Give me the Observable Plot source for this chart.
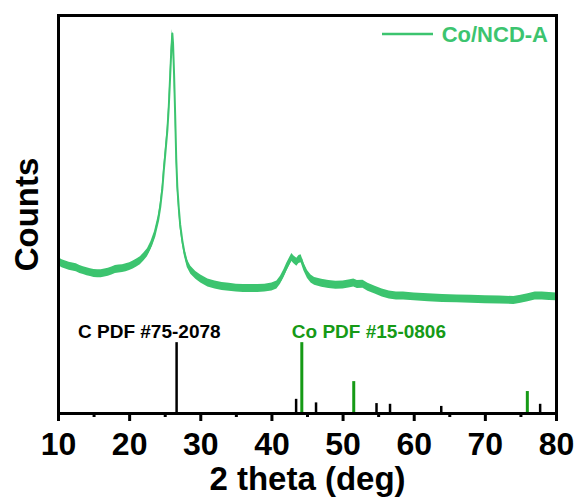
<!DOCTYPE html>
<html><head><meta charset="utf-8">
<script src="https://cdn.jsdelivr.net/npm/d3@7"></script>
<script src="https://cdn.jsdelivr.net/npm/@observablehq/plot@0.6"></script>
<style>body{margin:0;background:#fff} svg{display:block}</style>
</head><body><div id="chart"></div>
<script>
// XRD pattern (arbitrary counts)
const twoTheta = [10.0,10.5,11.0,11.5,12.0,12.5,13.0,13.5,14.0,14.5,15.0,15.5,16.0,16.5,17.0,17.5,18.0,18.5,19.0,19.5,20.0,20.5,21.0,21.5,22.0,22.5,23.0,23.5,24.0,24.3,24.6,24.8,25.0,25.3,25.5,25.7,25.85,26.0,26.1,26.25,26.4,26.55,26.7,26.9,27.1,27.4,27.7,28.1,28.6,29.3,30.0,31.0,32.0,33.0,34.0,35.0,36.0,37.0,38.0,39.0,40.0,40.7,41.2,41.7,42.1,42.5,42.8,43.1,43.5,43.8,44.1,44.5,45.0,45.5,46.0,47.0,48.0,49.0,50.0,51.0,51.5,52.0,52.8,53.5,54.5,55.5,56.5,57.5,58.5,60.0,62.0,64.0,66.0,68.0,70.0,72.0,74.0,75.0,76.0,77.0,78.0,79.0,80.0];
const counts = [38.2,37.6,37.3,37.0,36.8,36.6,36.2,35.9,35.6,35.4,35.2,35.1,35.1,35.3,35.5,35.8,36.2,36.3,36.4,36.6,36.9,37.3,37.8,38.4,39.3,40.4,42.2,44.7,48.5,51.8,56.5,61.1,65.0,71.1,77.0,85.0,91.0,95.5,93.0,85.0,75.0,64.0,57.0,51.8,47.5,43.5,40.5,37.7,36.0,34.7,33.8,32.8,32.3,31.9,31.7,31.5,31.4,31.4,31.4,31.5,31.8,32.3,33.5,35.2,36.8,38.2,39.2,38.6,38.0,38.7,38.9,36.8,34.9,33.8,33.2,32.7,32.4,32.2,32.3,32.6,32.8,32.4,32.5,31.7,31.0,30.3,29.8,29.5,29.5,29.3,29.1,28.9,28.8,28.7,28.6,28.5,28.4,28.7,29.1,29.5,29.5,29.4,29.3];

// Reference patterns (relative intensity)
const carbonPos = [26.6, 43.4, 46.2, 54.7, 56.6, 63.8, 77.7];
const carbonInt = [100, 20, 15, 14, 13, 10, 13];
const cobaltPos = [44.2, 51.5, 75.9];
const cobaltInt = [100, 45, 31];

const xTicks = [10, 20, 30, 40, 50, 60, 70, 80];
const xMinorTicks = [15, 25, 35, 45, 55, 65, 75];

const seriesName = "Co/NCD-A";
const carbonLabel = "C PDF #75-2078";
const cobaltLabel = "Co PDF #15-0806";
const xLabel = "2 theta (deg)";
const yLabel = "Counts";

const curve = twoTheta.map((x, i) => ({x, y: counts[i]}));
const carbon = carbonPos.map((x, i) => ({x, v: carbonInt[i]}));
const cobalt = cobaltPos.map((x, i) => ({x, v: cobaltInt[i]}));

const stickScale = 0.178; // relative intensity -> plot units
const noise = 1.0;
const curveColor = "#3cc46f";
const cobaltColor = "#169a16";
const font = "'Liberation Sans', Arial, Helvetica, sans-serif";

const legend = (index, scales, values, dim) => {
  const right = dim.width - dim.marginRight;
  const g = d3.create("svg:g");
  g.append("line").attr("x1", right - 174).attr("x2", right - 123)
    .attr("y1", dim.marginTop + 19).attr("y2", dim.marginTop + 19)
    .attr("stroke", curveColor).attr("stroke-width", 2.5);
  g.append("text").attr("x", right - 8).attr("y", dim.marginTop + 19)
    .attr("dy", "0.36em").attr("text-anchor", "end")
    .attr("fill", curveColor).attr("font-size", 22).attr("font-weight", "bold")
    .attr("font-family", font).text(seriesName);
  return g.node();
};

const chart = Plot.plot({
  width: 579,
  height: 500,
  marginLeft: 58,
  marginRight: 23,
  marginTop: 15,
  marginBottom: 87,
  style: {fontFamily: font, background: "#fff", color: "#000"},
  x: {domain: [10, 80]},
  y: {domain: [0, 100], axis: null},
  marks: [
    Plot.areaY(curve, {x: "x", y1: d => d.y - noise, y2: d => d.y + noise, fill: curveColor}),
    Plot.line(curve, {x: "x", y: "y", stroke: curveColor, strokeWidth: 2}),
    Plot.ruleX(carbon, {x: "x", y1: 0, y2: d => d.v * stickScale, stroke: "#000", strokeWidth: 2.5}),
    Plot.ruleX(cobalt, {x: "x", y1: 0, y2: d => d.v * stickScale, stroke: cobaltColor, strokeWidth: 3}),
    Plot.text(carbon.slice(0, 1), {x: "x", y: d => d.v * stickScale, text: () => carbonLabel, textAnchor: "end", dx: 44, dy: -11, lineAnchor: "middle", fontSize: 19, fontWeight: "bold", fill: "#000"}),
    Plot.text(cobalt.slice(0, 1), {x: "x", y: d => d.v * stickScale, text: () => cobaltLabel, textAnchor: "start", dx: -10, dy: -11, lineAnchor: "middle", fontSize: 19, fontWeight: "bold", fill: cobaltColor}),
    Plot.axisX({ticks: xTicks, tickSize: 8, tickPadding: 11, fontSize: 32, fontWeight: "bold", strokeWidth: 3, label: null}),
    Plot.axisX({ticks: xMinorTicks, tickSize: 4, tickFormat: () => "", strokeWidth: 3, label: null}),
    Plot.frame({stroke: "#000", strokeWidth: 3}),
    Plot.text([yLabel], {text: d => d, frameAnchor: "left", textAnchor: "middle", lineAnchor: "middle", dx: -31, rotate: -90, fontSize: 33, fontWeight: "bold", fill: "#000"}),
    Plot.text([xLabel], {text: d => d, frameAnchor: "bottom", dy: 66, lineAnchor: "middle", fontSize: 33, fontWeight: "bold", fill: "#000"}),
    legend
  ]
});
document.getElementById("chart").appendChild(chart);
</script>
</body></html>
